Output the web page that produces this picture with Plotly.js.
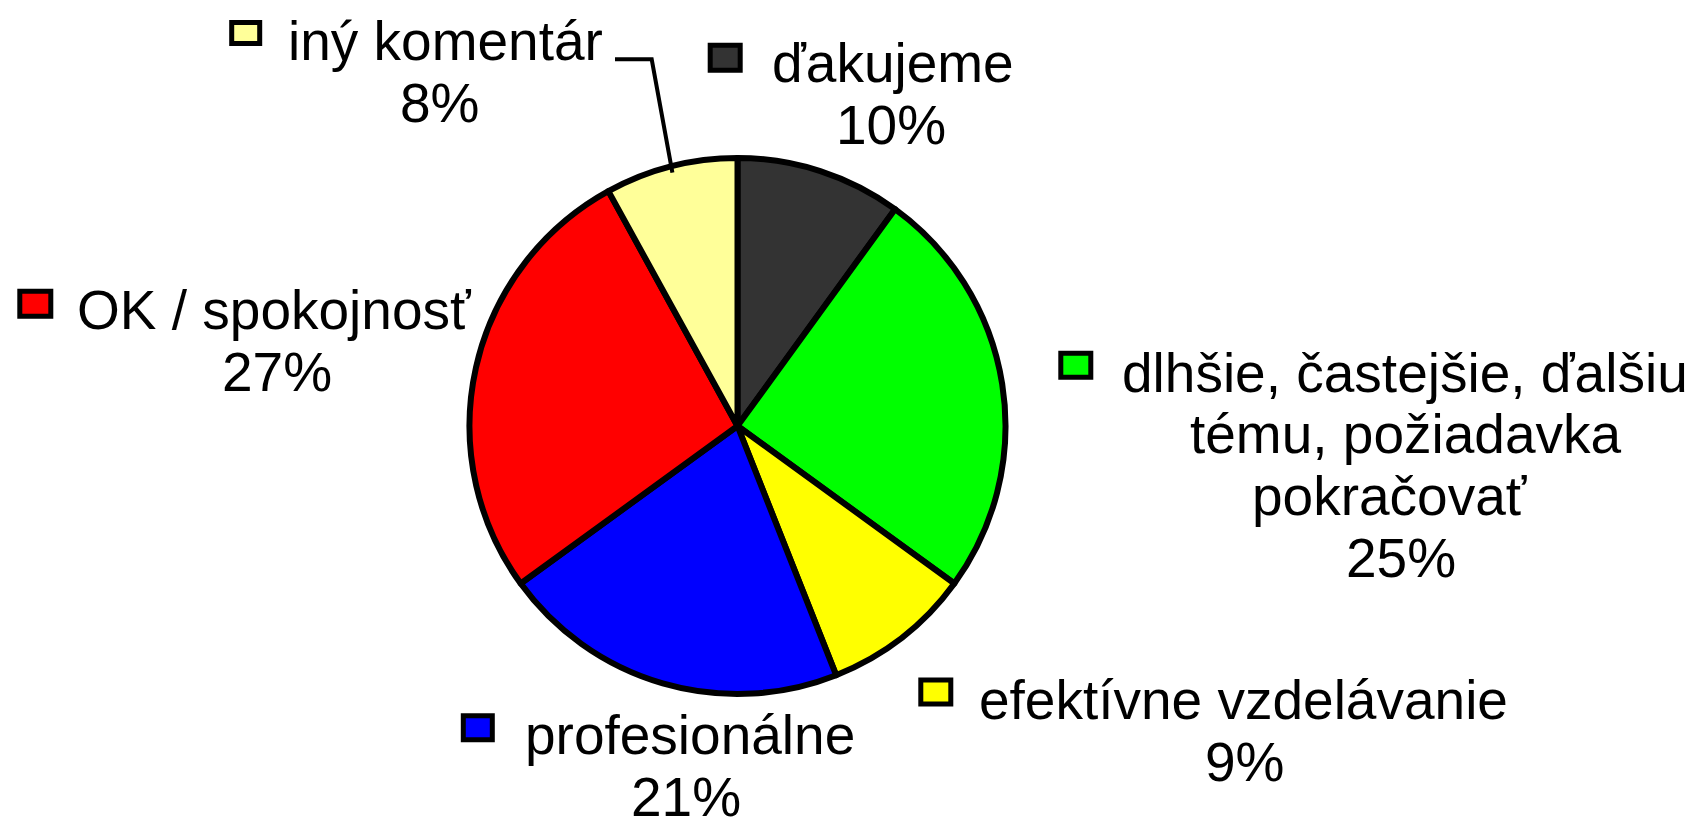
<!DOCTYPE html>
<html>
<head>
<meta charset="utf-8">
<script src="https://cdn.plot.ly/plotly-3.0.1.min.js"></script>
<style>
  html, body { margin: 0; padding: 0; background: #ffffff; }
  #chart { width: 1702px; height: 819px; }
</style>
</head>
<body>
<div id="chart"></div>
<script>
// ---- data ----
const categories = [
  'ďakujeme',
  'dlhšie, častejšie, ďalšiu tému, požiadavka pokračovať',
  'efektívne vzdelávanie',
  'profesionálne',
  'OK / spokojnosť',
  'iný komentár'
];
const values = [10, 25, 9, 21, 27, 8];
const sliceColors = ['#333333', '#00FF00', '#FFFF00', '#0000FF', '#FF0000', '#FFFF99'];
const labelLines = [
  ['ďakujeme'],
  ['dlhšie, častejšie, ďalšiu', 'tému, požiadavka', 'pokračovať'],
  ['efektívne vzdelávanie'],
  ['profesionálne'],
  ['OK / spokojnosť'],
  ['iný komentár']
];

// ---- layout (pixel positions of the hand-placed labels) ----
const W = 1702, H = 819;
const FONT = 'Liberation Sans, Arial, sans-serif';
const FONT_SIZE = 55;
const lineX = [[893], [1405, 1405, 1390], [1243], [690], [274.5], [445.8]];
const pctX = [891, 1401, 1245, 686, 277, 440];
const firstBaseline = [82, 391.7, 719.3, 754, 329, 60];
const lineStep = 61.7;
const keyCenter = [[725.2, 57.7], [1075.8, 365.3], [935.8, 692], [477.8, 727.8], [35.3, 303.7], [245.7, 33]];
const keySize = [[35, 30], [35, 29], [35, 29], [34, 29], [36, 30], [33, 26]];
const pieCenter = [737.5, 426];
const pieRadius = 268;

const px = x => x / W;
const py = y => 1 - y / H;
const baselineToMid = 0.3465 * FONT_SIZE;

const total = values.reduce((a, b) => a + b, 0);
const pctText = values.map(v => Math.round(v / total * 100) + '%');

const annotations = [];
const shapes = [];
categories.forEach((c, i) => {
  labelLines[i].forEach((t, j) => {
    annotations.push({
      text: t, showarrow: false, xref: 'paper', yref: 'paper',
      x: px(lineX[i][j]), y: py(firstBaseline[i] + j * lineStep - baselineToMid),
      xanchor: 'center', yanchor: 'middle',
      font: { family: FONT, size: FONT_SIZE, color: '#000000' }
    });
  });
  annotations.push({
    text: pctText[i], showarrow: false, xref: 'paper', yref: 'paper',
    x: px(pctX[i]), y: py(firstBaseline[i] + labelLines[i].length * lineStep - baselineToMid),
    xanchor: 'center', yanchor: 'middle',
    font: { family: FONT, size: FONT_SIZE, color: '#000000' }
  });
  const lw = 5;
  const [cx, cy] = keyCenter[i];
  const [kw, kh] = keySize[i];
  shapes.push({
    type: 'rect', xref: 'paper', yref: 'paper',
    x0: px(cx - (kw - lw) / 2), x1: px(cx + (kw - lw) / 2),
    y0: py(cy + (kh - lw) / 2), y1: py(cy - (kh - lw) / 2),
    fillcolor: sliceColors[i], line: { color: '#000000', width: lw }
  });
});

// leader line for "iný komentár"
const leader = [[615, 59.3], [651.7, 59.3], [672.4, 172.6]];
shapes.push({
  type: 'path', xref: 'paper', yref: 'paper',
  path: leader.map((p, k) => (k ? 'L' : 'M') + px(p[0]) + ',' + py(p[1])).join(' '),
  line: { color: '#000000', width: 4 }
});

const trace = {
  type: 'pie',
  labels: categories,
  values: values,
  sort: false,
  direction: 'clockwise',
  rotation: 0,
  textinfo: 'none',
  hoverinfo: 'label+percent',
  marker: { colors: sliceColors, line: { color: '#000000', width: 6 } },
  domain: {
    x: [px(pieCenter[0] - pieRadius), px(pieCenter[0] + pieRadius)],
    y: [py(pieCenter[1] + pieRadius), py(pieCenter[1] - pieRadius)]
  },
  showlegend: false
};

const layout = {
  width: W, height: H,
  margin: { l: 0, r: 0, t: 0, b: 0, pad: 0 },
  paper_bgcolor: '#ffffff',
  plot_bgcolor: '#ffffff',
  showlegend: false,
  annotations: annotations,
  shapes: shapes
};

Plotly.newPlot('chart', [trace], layout, { displayModeBar: false, staticPlot: true });
</script>
</body>
</html>
